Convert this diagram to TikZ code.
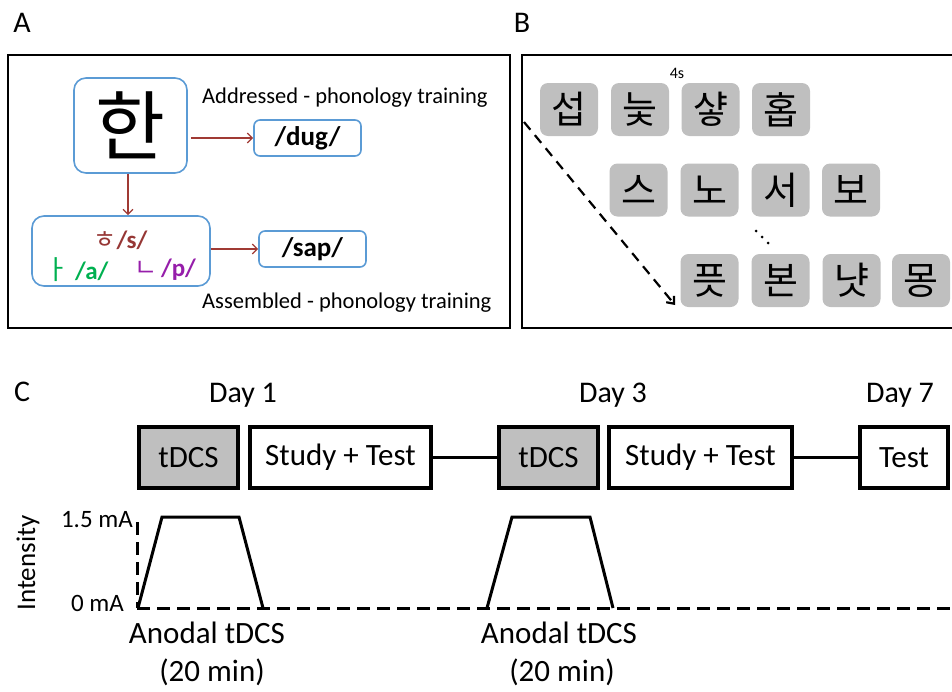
\documentclass[tikz,border=0pt]{standalone}
\usepackage{fontspec}
\setmainfont{Carlito}
\newfontfamily\kr{Noto Sans CJK KR}
\usetikzlibrary{arrows.meta}
\definecolor{bboxblue}{RGB}{91,155,213}
\definecolor{arrred}{RGB}{160,58,52}
\definecolor{sred}{RGB}{150,55,53}
\definecolor{agreen}{RGB}{0,176,80}
\definecolor{ppurple}{RGB}{150,30,170}
\definecolor{keygray}{RGB}{191,191,191}
\newcommand{\fs}[1]{\fontsize{#1}{#1}\selectfont}
\begin{document}
\begin{tikzpicture}[x=1pt,y=-1pt,
  panellabel/.style={font=\fs{30}},
  panelframe/.style={line width=2pt,black},
  bluebox/.style={draw=bboxblue,line width=1.6pt,rounded corners=12pt,inner sep=0pt},
  sndbox/.style={draw=bboxblue,line width=1.6pt,rounded corners=6pt,inner sep=0pt,
     minimum width=107,minimum height=36,font=\bfseries\fs{27}},
  redarrow/.style={draw=arrred,line width=1.3pt,-{Straight Barb[length=5pt,width=10pt]}},
  traintext/.style={font=\fs{22.5},inner sep=0pt},
  keybox/.style={fill=keygray,rounded corners=8pt,minimum width=58,minimum height=53,inner sep=0pt,
     font=\kr\fs{38}},
  daytext/.style={font=\fs{30},inner sep=0pt},
  stagebox/.style={draw=black,line width=4pt,minimum height=61,inner sep=0pt,font=\fs{31}},
  graylabel/.style={stagebox,fill=keygray},
  whitelabel/.style={stagebox,fill=white},
  linkline/.style={line width=3pt},
  curve/.style={line width=3pt,line join=miter},
  axisdash/.style={line width=3pt,dash pattern=on 13pt off 7pt},
  axtext/.style={font=\fs{25},inner sep=0pt},
  anodtext/.style={font=\fs{31},inner sep=0pt},
  jamo/.style={inner sep=0pt,font=\bfseries\fs{25}}
]
\useasboundingbox (0,0) rectangle (952,691);

% ---------------- Panel A ----------------
\node[panellabel] (labA) at (22,23) {A};
\draw[panelframe] (8,55) rectangle (510,328);

\node[bluebox,minimum width=113,minimum height=95] (han) at (130.5,125.5) {\kr\fs{76}한};
\node[traintext,anchor=west] (addr) at (202,98) {Addressed - phonology training};
\node[sndbox] (dug) at (307.5,138) {/dug/};
\node[bluebox,minimum width=178,minimum height=70] (asm) at (121,251) {};
\node[jamo,text=sred] (hs) at (120.5,240) {{\kr\mdseries\fs{25}ㅎ}/s/};
\node[jamo,text=agreen] (aa) at (76.5,270) {{\kr\mdseries\fs{27}ㅏ} /a/};
\node[jamo,text=ppurple] (np) at (165,270) {{\kr\mdseries\fs{25}ㄴ}\hspace{4pt}/p/};
\node[sndbox] (sap) at (312.5,249) {/sap/};
\node[traintext,anchor=west] (assm) at (202,303) {Assembled - phonology training};

\draw[redarrow,shorten <=3pt] (han.east |- dug.west) -- (dug.west);
\draw[redarrow] (han.south -| 128,0) -- (asm.north -| 128,0);
\draw[redarrow] (asm.east |- sap.west) -- (sap.west);

% ---------------- Panel B ----------------
\node[panellabel] (labB) at (522,23) {B};
\draw[panelframe] (952,55) -- (522,55) -- (522,328) -- (952,328);

\node[keybox] (k11) at (569,109.5) {섭};
\node[keybox] (k12) at (640,109.5) {늧};
\node[keybox] (k13) at (710.5,109.5) {샿};
\node[keybox] (k14) at (781,109.5) {홉};
\node[font=\fs{16},inner sep=0pt] (four) at (677,73) {4s};

\node[keybox] (k21) at (638.5,190) {스};
\node[keybox] (k22) at (709.5,190) {노};
\node[keybox] (k23) at (780.5,190) {서};
\node[keybox] (k24) at (851,190) {보};

\fill (756,231) circle (1.5) (762,237) circle (1.5) (768,243) circle (1.5);

\node[keybox] (k31) at (709.5,280.5) {픗};
\node[keybox] (k32) at (780.5,280.5) {본};
\node[keybox] (k33) at (851.5,280.5) {냣};
\node[keybox] (k34) at (921,280.5) {몽};

\coordinate (dstart) at (524,122);
\coordinate (dend) at (675,305);
\draw[line width=2.2pt,dash pattern=on 10pt off 7pt,-{Straight Barb[length=6pt,width=10pt]}] (dstart) -- (dend);

% ---------------- Panel C ----------------
\node[panellabel] (labC) at (22,392) {C};
\node[daytext] (d1) at (243,395) {Day 1};
\node[daytext] (d3) at (613,395) {Day 3};
\node[daytext] (d7) at (900,395) {Day 7};

\node[graylabel,minimum width=99] (t1) at (188.5,457.5) {tDCS};
\node[whitelabel,minimum width=181] (s1) at (340.5,457.5) {Study + Test};
\node[graylabel,minimum width=99] (t2) at (548.5,457.5) {tDCS};
\node[whitelabel,minimum width=183] (s2) at (700.5,457.5) {Study + Test};
\node[whitelabel,minimum width=88] (te) at (904,457.5) {Test};

\draw[linkline] (s1.east) -- (t2.west);
\draw[linkline] (s2.east) -- (te.west);

\node[font=\fs{27},rotate=90,inner sep=0pt] (inten) at (28,563) {Intensity};
\node[axtext,anchor=east] (hi) at (133,520) {1.5 mA};
\node[axtext,anchor=east] (lo) at (124,603) {0 mA};

\draw[axisdash] (137,522) -- (137,608);
\draw[axisdash] (137,608) -- (952,608);
\draw[curve] (138,608) -- (162,517) -- (239,517) -- (263,608);
\draw[curve] (487,608) -- (512,517) -- (590,517) -- (613,608);

\node[anodtext] (an1) at (207,633) {Anodal tDCS};
\node[anodtext] (mn1) at (212,672) {(20 min)};
\node[anodtext] (an2) at (559,633) {Anodal tDCS};
\node[anodtext] (mn2) at (562,672) {(20 min)};
\end{tikzpicture}
\end{document}
